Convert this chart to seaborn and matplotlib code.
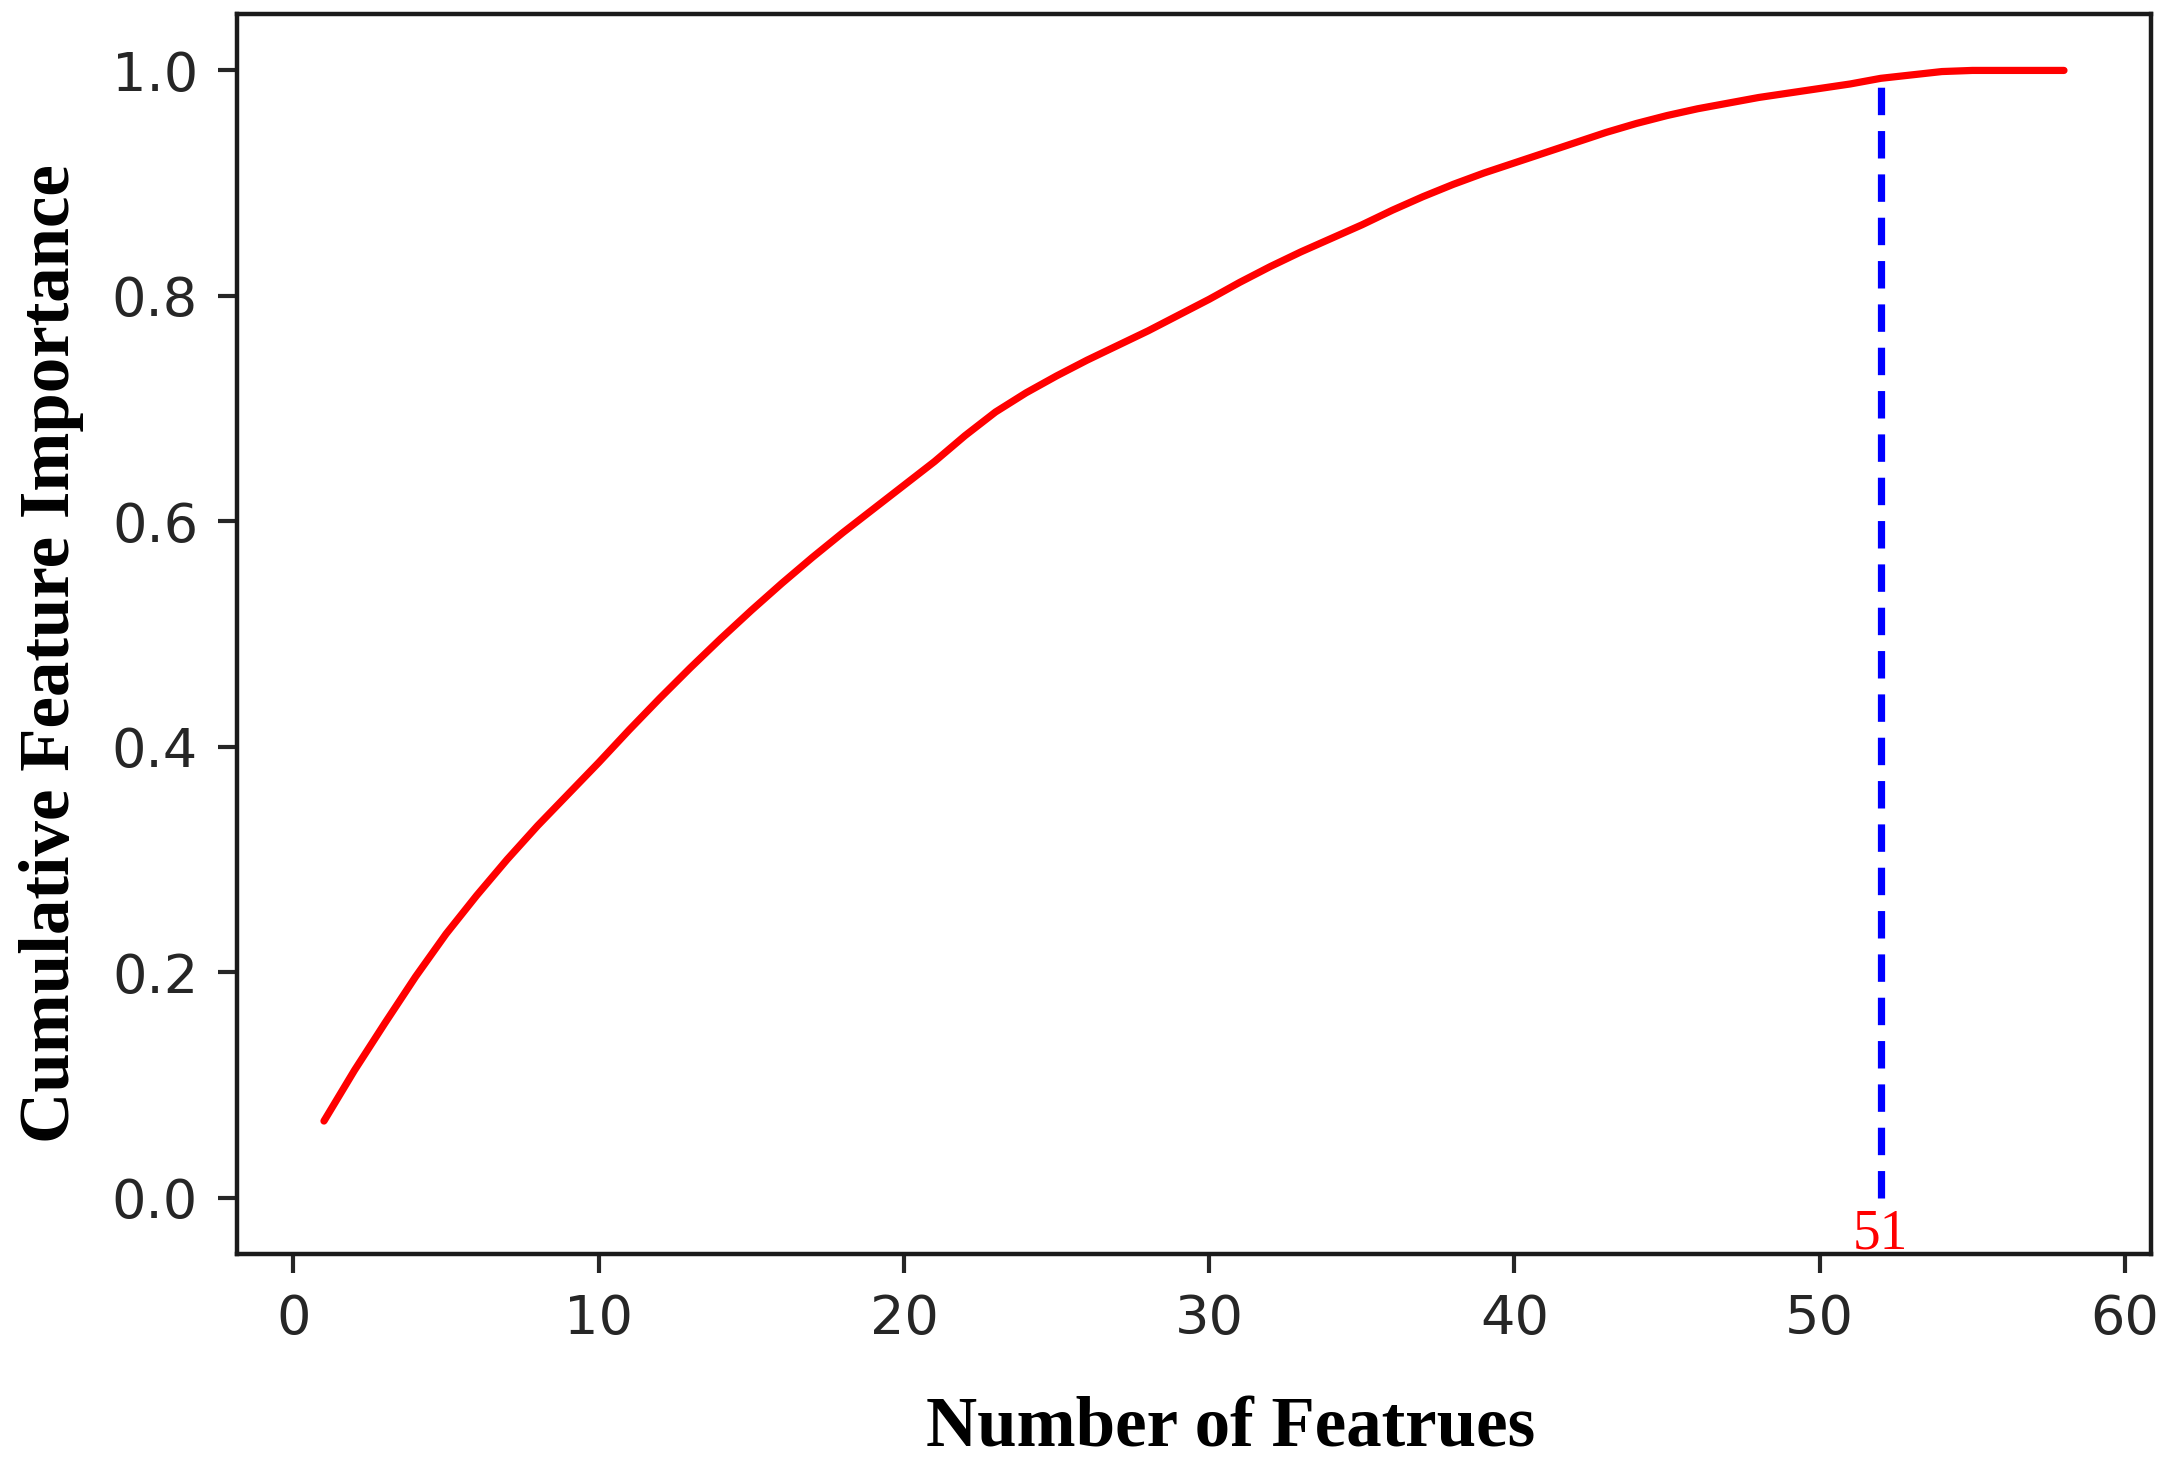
import numpy as np
import pandas as pd
import seaborn as sns
import matplotlib.pyplot as plt

# Data
n_features = list(range(1, 59))
cum_importance = [
    0.068, 0.113, 0.155, 0.196, 0.234, 0.268, 0.300, 0.330, 0.358, 0.386,
    0.415, 0.443, 0.470, 0.496, 0.521, 0.545, 0.568, 0.590, 0.611, 0.632,
    0.653, 0.676, 0.697, 0.714, 0.729, 0.743, 0.756, 0.769, 0.783, 0.797,
    0.812, 0.826, 0.839, 0.851, 0.863, 0.876, 0.888, 0.899, 0.909, 0.918,
    0.927, 0.936, 0.945, 0.953, 0.960, 0.966, 0.971, 0.976, 0.980, 0.984,
    0.988, 0.993, 0.996, 0.999, 1.000, 1.000, 1.000, 1.000,
]
cut_x = 52
cut_label = "51"

df = pd.DataFrame({"n": n_features, "cum": cum_importance})
cut_y = df.loc[df["n"] == cut_x, "cum"].iloc[0]

# Setup
sns.set_style("ticks")
plt.rcParams["font.family"] = ["DejaVu Sans"]

fig = plt.figure(figsize=(10.88, 7.325), dpi=200)
ax = fig.add_axes([0.1089, 0.144, 0.8796, 0.8464])

sns.lineplot(data=df, x="n", y="cum", color="red", linewidth=2.6, ax=ax)
ax.vlines(cut_x, 0, cut_y, colors="blue", linestyles=(0, (3.8, 2.2)), linewidth=2.6)
ax.text(cut_x, -0.045, cut_label, color="red", ha="center", va="baseline",
        fontsize=20, family="Liberation Serif")

ax.set_xticks([0, 10, 20, 30, 40, 50, 60])
ax.set_yticks([0.0, 0.2, 0.4, 0.6, 0.8, 1.0])
ax.tick_params(labelsize=19.5, length=7, width=1.5, pad=7, colors="#262626")
for s in ax.spines.values():
    s.set_linewidth(1.6)
    s.set_color("#1a1a1a")

ax.set_xlabel("Number of Featrues", fontsize=25.5, fontweight="bold",
              family="Liberation Serif", labelpad=18.5, color="black")
ax.set_ylabel("Cumulative Feature Importance", fontsize=25.5, fontweight="bold",
              family="Liberation Serif", labelpad=10, color="black")
ax.xaxis.label.set_x(0.519)
ax.yaxis.label.set_y(0.484)

fig.savefig("out.png", dpi=200)
plt.close(fig)
